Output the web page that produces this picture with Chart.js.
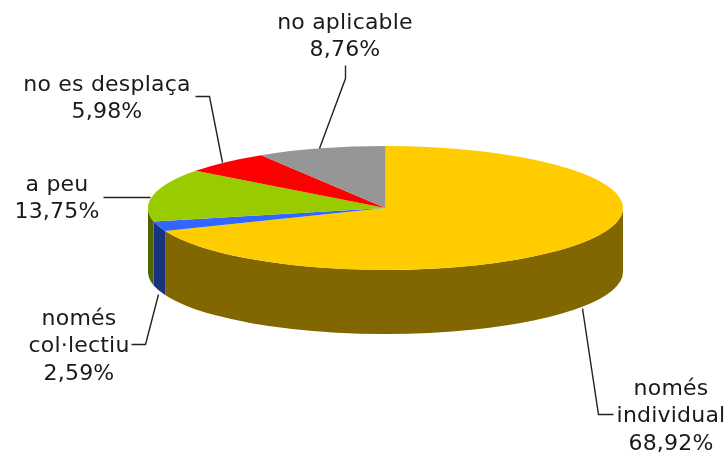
<!DOCTYPE html>
<html>
<head>
<meta charset="utf-8">
<script src="https://cdn.jsdelivr.net/npm/chart.js@4"></script>
<style>html,body{margin:0;padding:0;background:#fff}canvas{display:block}</style>
</head>
<body>
<canvas id="c" width="727" height="452"></canvas>
<script>
const categories = [["només","individual"],["només","col·lectiu"],["a peu"],["no es desplaça"],["no aplicable"]];
const values = [68.92, 2.59, 13.75, 5.98, 8.76];
const topColors = ["#FFCC00","#3366FF","#99CC00","#FF0000","#969696"];
const wallColors = ["#826600","#1A337F","#4D6600","#800000","#4B4B4B"];

const centerX = 385.5, centerY = 208, radiusX = 237.5, radiusY = 62, depth = 64;
const labelFont = '22px "DejaVu Sans"';
const lineHeight = 27.6;
const labelCenters = [[671,389],[79,319],[57,185],[107,85],[345,23]];
const leaders = [
  [[582,308],[598,414],[613,414]],
  [[158,294],[145,344],[131,344]],
  [[150,197],[103,197]],
  [[222,162],[209,96],[195,96]],
  [[319,148],[345,78],[345,65]]
];

function squash(ctx, el){
  const R = el.outerRadius;
  ctx.translate(centerX, centerY);
  ctx.scale(radiusX / R, radiusY / R);
  ctx.translate(-el.x, -el.y);
}

const pie3d = {
  id: 'pie3d',
  beforeDatasetsDraw(chart){
    const ctx = chart.ctx;
    const arcs = chart.getDatasetMeta(0).data;
    arcs.forEach((el, i) => {
      const a0 = Math.max(el.startAngle, 0), a1 = Math.min(el.endAngle, Math.PI);
      if (a1 <= a0) return;
      ctx.beginPath();
      ctx.ellipse(centerX, centerY, radiusX, radiusY, 0, a0, a1);
      ctx.ellipse(centerX, centerY + depth, radiusX, radiusY, 0, a1, a0, true);
      ctx.closePath();
      ctx.fillStyle = wallColors[i];
      ctx.fill();
    });
    ctx.save();
    squash(ctx, arcs[0]);
  },
  afterDatasetsDraw(chart){
    const ctx = chart.ctx;
    ctx.restore();
    ctx.save();
    ctx.strokeStyle = '#222222';
    ctx.lineWidth = 1.4;
    leaders.forEach(pts => {
      ctx.beginPath();
      pts.forEach((p, i) => i ? ctx.lineTo(p[0]+.5, p[1]+.5) : ctx.moveTo(p[0]+.5, p[1]+.5));
      ctx.stroke();
    });
    ctx.font = labelFont;
    ctx.letterSpacing = '0.2px';
    ctx.fillStyle = '#1a1a1a';
    ctx.textAlign = 'center';
    ctx.textBaseline = 'middle';
    categories.forEach((lines, i) => {
      const all = lines.concat(values[i].toFixed(2).replace('.', ',') + '%');
      all.forEach((t, j) => ctx.fillText(t, labelCenters[i][0], labelCenters[i][1] + j * lineHeight));
    });
    ctx.restore();
  }
};

new Chart(document.getElementById('c'), {
  type: 'pie',
  data: {
    labels: categories.map(l => l.join(' ')),
    datasets: [{ data: values, backgroundColor: topColors, borderWidth: 0, clip: false }]
  },
  options: {
    responsive: false,
    animation: false,
    events: [],
    plugins: { legend: { display: false }, tooltip: { enabled: false } }
  },
  plugins: [pie3d]
});
</script>
</body>
</html>
